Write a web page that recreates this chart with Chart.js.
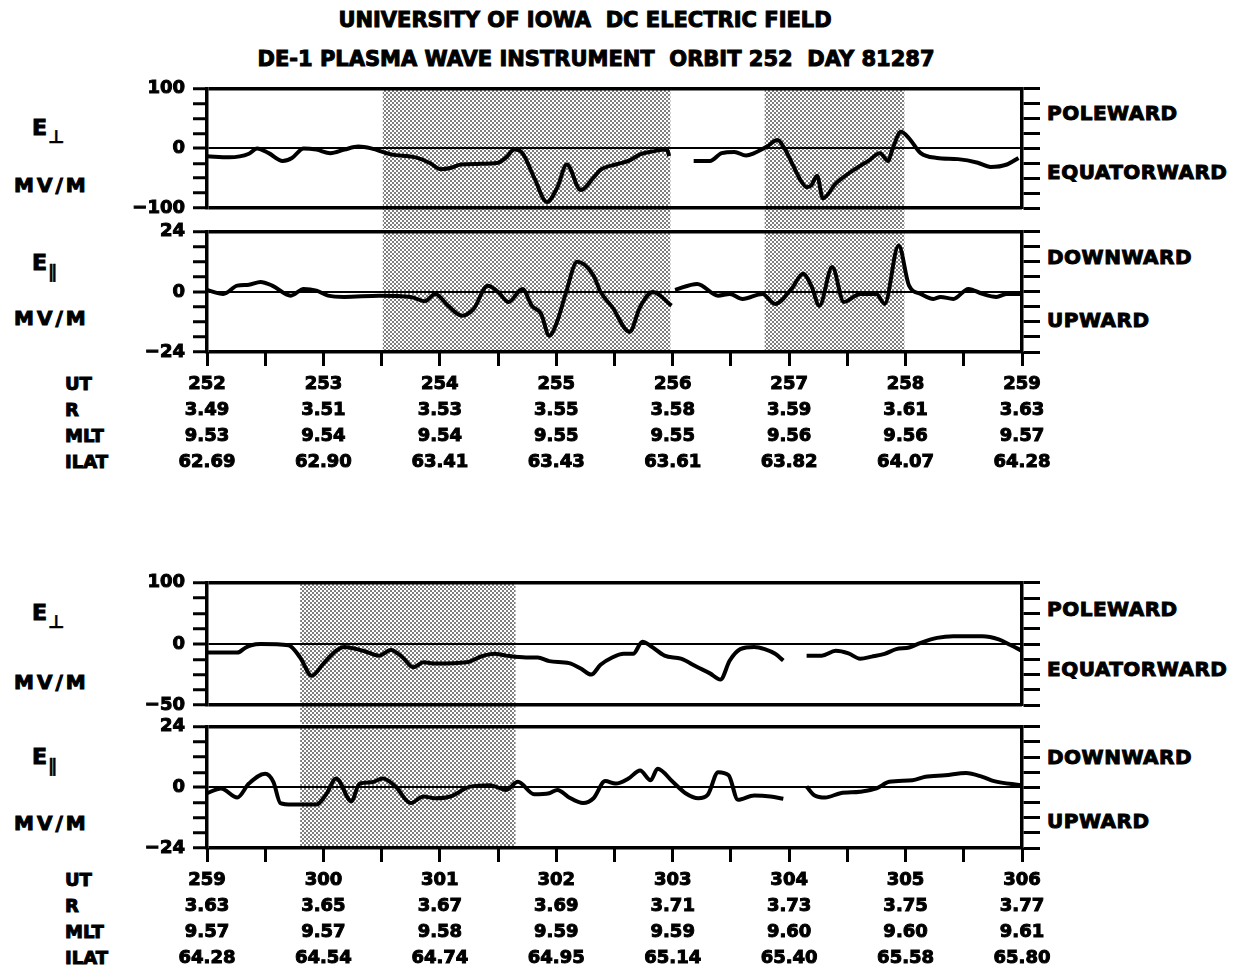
<!DOCTYPE html>
<html>
<head>
<meta charset="utf-8">
<script src="https://cdn.jsdelivr.net/npm/chart.js@4.4.0/dist/chart.umd.min.js"></script>
<style>
  body { margin: 0; background: #fff; width: 1237px; height: 972px; position: relative; overflow: hidden;
         font-family: "DejaVu Sans", sans-serif; font-weight: bold; color: #000; }
  canvas { position: absolute; left: 0; }
  .txt, .title { -webkit-text-stroke: 1px #000; }
  .txt { position: absolute; white-space: nowrap; line-height: 1; transform: translateY(-50%); }
  .title { position: absolute; white-space: nowrap; line-height: 1; transform: translate(-50%, -50%); font-size: 21px; }
  .side { font-size: 20px; letter-spacing: 0.5px; }
  .unit { font-size: 20px; letter-spacing: 3px; left: 14px; }
  .field { font-size: 22px; left: 32px; }
  .field span { font-size: 18px; position: relative; top: 8px; margin-left: 1px; -webkit-text-stroke: 0.4px #000; }
  .row { font-size: 18px; left: 65px; }
</style>
</head>
<body>
<div class="title" style="left:585px;top:20px">UNIVERSITY OF IOWA&nbsp;&nbsp;DC ELECTRIC FIELD</div>
<div class="title" style="left:596px;top:59px">DE-1 PLASMA WAVE INSTRUMENT&nbsp;&nbsp;ORBIT 252&nbsp;&nbsp;DAY 81287</div>

<div class="txt field" style="top:128px">E<span>⊥</span></div>
<div class="txt unit" style="top:185px">MV/M</div>
<div class="txt field" style="top:263px">E<span>∥</span></div>
<div class="txt unit" style="top:318px">MV/M</div>
<div class="txt field" style="top:613px">E<span>⊥</span></div>
<div class="txt unit" style="top:682px">MV/M</div>
<div class="txt field" style="top:757px">E<span>∥</span></div>
<div class="txt unit" style="top:823px">MV/M</div>

<div class="txt side" style="left:1047px;top:113px">POLEWARD</div>
<div class="txt side" style="left:1047px;top:172px">EQUATORWARD</div>
<div class="txt side" style="left:1047px;top:257px">DOWNWARD</div>
<div class="txt side" style="left:1047px;top:320px">UPWARD</div>
<div class="txt side" style="left:1047px;top:609px">POLEWARD</div>
<div class="txt side" style="left:1047px;top:669px">EQUATORWARD</div>
<div class="txt side" style="left:1047px;top:757px">DOWNWARD</div>
<div class="txt side" style="left:1047px;top:821px">UPWARD</div>

<div class="txt row" style="top:384px">UT</div>
<div class="txt row" style="top:410px">R</div>
<div class="txt row" style="top:436px">MLT</div>
<div class="txt row" style="top:462px">ILAT</div>
<div class="txt row" style="top:880px">UT</div>
<div class="txt row" style="top:906px">R</div>
<div class="txt row" style="top:932px">MLT</div>
<div class="txt row" style="top:958px">ILAT</div>

<canvas id="p1" width="1237" height="159" style="top:70px"></canvas>
<canvas id="p2" width="1237" height="277" style="top:213px"></canvas>
<canvas id="p3" width="1237" height="160" style="top:564px"></canvas>
<canvas id="p4" width="1237" height="264" style="top:708px"></canvas>

<script>
// x is minutes after the first UT mark of each strip (0..7)
const utTop   = ["252", "253", "254", "255", "256", "257", "258", "259"];
const rTop    = ["3.49", "3.51", "3.53", "3.55", "3.58", "3.59", "3.61", "3.63"];
const mltTop  = ["9.53", "9.54", "9.54", "9.55", "9.55", "9.56", "9.56", "9.57"];
const ilatTop = ["62.69", "62.90", "63.41", "63.43", "63.61", "63.82", "64.07", "64.28"];

const utBot   = ["259", "300", "301", "302", "303", "304", "305", "306"];
const rBot    = ["3.63", "3.65", "3.67", "3.69", "3.71", "3.73", "3.75", "3.77"];
const mltBot  = ["9.57", "9.57", "9.58", "9.59", "9.59", "9.60", "9.60", "9.61"];
const ilatBot = ["64.28", "64.54", "64.74", "64.95", "65.14", "65.40", "65.58", "65.80"];

// shaded intervals (minutes)
const shadeTop = [[1.51, 3.98], [4.79, 5.99]];
const shadeBot = [[0.80, 2.65]];

// y axis ticks
const perpTicks    = [-100, -75, -50, -25, 0, 25, 50, 75, 100];
const perpTicksLow = [-50, -37.5, -25, -12.5, 0, 25, 50, 75, 100];
const parTicks     = [-24, -18, -12, -6, 0, 6, 12, 18, 24];

// E perp, orbit strip 1 (null = data gap)
const topPerpT = [0, 0.19, 0.36, 0.43, 0.53, 0.65, 0.73, 0.83, 0.94, 1.06, 1.18, 1.30, 1.41, 1.58, 1.79, 1.91,
  2.01, 2.09, 2.18, 2.33, 2.50, 2.57, 2.64, 2.71, 2.81, 2.92, 3.01, 3.09, 3.21, 3.32, 3.38, 3.51, 3.62, 3.72,
  3.83, 3.95, 3.97, 4.07, 4.18, 4.32, 4.42, 4.53, 4.63, 4.70, 4.81, 4.90, 4.96, 5.03, 5.10, 5.15, 5.19, 5.24,
  5.29, 5.40, 5.54, 5.68, 5.78, 5.85, 5.89, 5.96, 6.03, 6.13, 6.27, 6.45, 6.62, 6.73, 6.87, 6.97];
const topPerpV = [-13, -15, -9, 0, -8, -21, -16, 0, -2, -8, -2, 3, 0, -10, -15, -24,
  -35, -33, -27, -26, -24, -15, -2, -8, -49, -90, -65, -27, -70, -49, -36, -27, -21, -10,
  -5, -2, -13, null, -21, -21, -8, -6, -12, -8, 3, 14, 0, -27, -54, -65, -62, -46,
  -84, -59, -38, -21, -8, -21, 0, 28, 17, -8, -16, -18, -24, -31, -27, -16];

// E parallel, strip 1
const topParT = [0, 0.14, 0.26, 0.36, 0.46, 0.56, 0.72, 0.83, 0.94, 1.04, 1.18, 1.48, 1.75, 1.87, 1.96, 2.07,
  2.19, 2.29, 2.41, 2.50, 2.59, 2.71, 2.79, 2.87, 2.94, 3.01, 3.08, 3.18, 3.32, 3.38, 3.48, 3.63, 3.72, 3.83,
  3.99, 4.00, 4.02, 4.21, 4.39, 4.49, 4.60, 4.77, 4.88, 5.02, 5.12, 5.19, 5.26, 5.37, 5.47, 5.61, 5.75, 5.82,
  5.94, 6.03, 6.13, 6.24, 6.30, 6.41, 6.54, 6.66, 6.78, 6.87, 6.99];
const topParV = [0.8, -0.8, 2.5, 2.9, 4, 2.5, -1.5, 1.2, 0.5, -1.5, -2, -1.5, -2, -3.7, -0.8, -5.5,
  -9.5, -6.8, 2.5, 0, -4, 1.2, -5.5, -8.8, -17.5, -11.5, -0.8, 12, 6.5, 0, -6, -16, -6, 0,
  -5.5, null, 0.8, 3.2, -1.5, -0.8, -2.8, -0.8, -4.8, 1.2, 7.2, 2.5, -5.5, 9.9, -4, -0.8, -0.8, -4.8,
  18.5, 2.5, -0.8, -2.8, -2, -2.8, 1.2, -0.8, -2, -0.8, -0.8];

// E perp, strip 2
const botPerpT = [0, 0.26, 0.33, 0.38, 0.46, 0.70, 0.80, 0.90, 1.00, 1.11, 1.18, 1.34, 1.48, 1.58, 1.68, 1.77,
  1.86, 1.96, 2.23, 2.36, 2.47, 2.57, 2.74, 2.84, 2.94, 3.11, 3.21, 3.30, 3.38, 3.48, 3.58, 3.66, 3.74, 3.81,
  3.93, 4.07, 4.21, 4.32, 4.41, 4.49, 4.58, 4.70, 4.79, 4.88, 4.95, 5.05, 5.15, 5.28, 5.40, 5.51, 5.61, 5.71,
  5.82, 5.92, 6.03, 6.13, 6.27, 6.41, 6.66, 6.80, 6.90, 7.0];
const botPerpV = [-7, -7, -3, -1, 0, -1, -11, -26, -16, -5.5, -2.4, -5.5, -9.5, -4.8, -11, -19,
  -15, -16, -15, -10, -8, -9.5, -11, -11, -14, -15.6, -20, -25, -17, -11, -8, -8, 3.8, -1.6,
  -9.5, -12, -18.8, -24, -29, -13.5, -4.2, -2.4, -4.2, -8, -13.5, null, -9.5, -9.5, -5.6, -7.7, -12, -10.3,
  -8, -4.2, -2.9, 2, 10, 12.7, 12.7, 7.5, -0.8, -5.6];

// E parallel, strip 2
const botParT = [0, 0.12, 0.26, 0.36, 0.50, 0.57, 0.63, 0.73, 0.94, 1.02, 1.11, 1.24, 1.31, 1.41, 1.51, 1.62,
  1.75, 1.86, 1.96, 2.09, 2.26, 2.43, 2.57, 2.67, 2.81, 2.94, 3.01, 3.11, 3.23, 3.32, 3.42, 3.51, 3.62, 3.72,
  3.81, 3.87, 4.00, 4.11, 4.22, 4.30, 4.39, 4.48, 4.56, 4.70, 4.84, 4.95, 5.05, 5.15, 5.22, 5.31, 5.44, 5.61,
  5.75, 5.86, 6.06, 6.17, 6.34, 6.52, 6.66, 6.76, 6.99];
const botParV = [-2.3, -0.4, -4, 1.5, 5.4, 2.2, -6.2, -6.8, -6.8, -3, 3.5, -5.5, 1.5, 2, 3.5, 0.3,
  -6.2, -3.6, -4.3, -3.6, 0.3, 0.9, -1, 2.2, -2.7, -2.3, -1, -4, -6.2, -4.3, 2.5, 1.5, 3.5, 6.7,
  2.8, 7.4, 2.2, -2.3, -4.3, -3, 6, 4.8, -4.9, -3.2, -3.6, -4.5, null, 0.3, -3.2, -4, -2.3, -1.7,
  -0.4, 2.2, 2.8, 4.2, 4.8, 5.7, 4.2, 2.5, 0.9];

// scale whose two halves (above and below zero) have the same height
class SplitScale extends Chart.LinearScale {
  getPixelForValue(value) {
    const d = value >= 0 ? 0.5 + 0.5 * value / this.max : 0.5 - 0.5 * value / this.min;
    return this.getPixelForDecimal(d);
  }
  getValueForPixel(pixel) {
    const d = this.getDecimalForPixel(pixel);
    return d >= 0.5 ? (d - 0.5) * 2 * this.max : (0.5 - d) * 2 * this.min;
  }
}
SplitScale.id = "split";
SplitScale.defaults = Chart.LinearScale.defaults;
Chart.register(SplitScale);

Chart.defaults.font.family = '"DejaVu Sans", sans-serif';
Chart.defaults.font.weight = "bold";
Chart.defaults.font.size = 18;
Chart.defaults.color = "#000";

// halftone dots for shaded intervals
const tile = document.createElement("canvas");
tile.width = 4; tile.height = 4;
const tctx = tile.getContext("2d");
tctx.fillStyle = "rgba(0,0,0,0.5)";
tctx.fillRect(0, 0, 2, 2);
tctx.fillRect(2, 2, 2, 2);

const shadePlugin = {
  id: "shade",
  beforeDraw(chart, args, opts) {
    const { ctx, chartArea } = chart;
    const x = chart.scales.x;
    const bottom = opts.extend ? chart.height : chartArea.bottom;
    ctx.save();
    ctx.fillStyle = ctx.createPattern(tile, "repeat");
    opts.spans.forEach(([a, b]) => {
      const x0 = x.getPixelForValue(a), x1 = x.getPixelForValue(b);
      ctx.fillRect(x0, chartArea.top, x1 - x0, bottom - chartArea.top);
    });
    ctx.restore();
  }
};

function fmt(v) {
  return v < 0 ? "\u2212" + Math.abs(v) : String(v);
}

function makePanel(id, cfg) {
  const { tv, vv, min, max, ticks, split, shade, extend, pad, xLabels } = cfg;
  const showX = !!xLabels;
  const edge = v => v === 0 || v === min || v === max;
  const yType = split ? "split" : "linear";
  const setTicks = s => { s.ticks = ticks.map(v => ({ value: v })); };

  new Chart(document.getElementById(id), {
    type: "line",
    data: {
      datasets: [{
        data: tv.map((t, i) => ({ x: t, y: vv[i] })),
        borderColor: "#000",
        borderWidth: 4,
        pointRadius: 0,
        cubicInterpolationMode: "monotone",
        spanGaps: false,
        yAxisID: "y"
      }]
    },
    options: {
      responsive: false,
      animation: false,
      devicePixelRatio: 1,
      layout: { padding: pad },
      plugins: {
        legend: { display: false },
        tooltip: { enabled: false },
        shade: { spans: shade, extend: extend }
      },
      scales: {
        x: {
          type: "linear",
          min: 0, max: 7,
          display: showX,
          afterFit: s => { if (showX) s.height = cfg.xHeight; },
          ticks: {
            stepSize: 0.5,
            autoSkip: false,
            maxRotation: 0,
            padding: 5,
            textStrokeColor: "#000",
            textStrokeWidth: 1,
            font: { size: 18, lineHeight: 26 / 18 },
            callback: v => {
              const i = Math.round(v);
              if (!showX || Math.abs(v - i) > 1e-6) return "";
              return xLabels.map(row => row[i]);
            }
          },
          grid: { drawOnChartArea: false, tickLength: 14, tickWidth: 3, tickColor: "#000" },
          border: { display: false }
        },
        y: {
          type: yType,
          position: "left",
          min: min, max: max,
          afterBuildTicks: setTicks,
          afterFit: s => { s.width = 207; },
          ticks: {
            autoSkip: false,
            padding: 8,
            textStrokeColor: "#000",
            textStrokeWidth: 1,
            font: { size: 18 },
            callback: v => edge(v) ? fmt(v) : ""
          },
          grid: {
            color: ctx => edge(ctx.tick.value) ? "#000" : "rgba(0,0,0,0)",
            lineWidth: ctx => ctx.tick.value === 0 ? 2 : 3.5,
            tickLength: 14,
            tickWidth: 3,
            tickColor: "#000"
          },
          border: { display: true, color: "#000", width: 3.5 }
        },
        y2: {
          type: yType,
          position: "right",
          min: min, max: max,
          afterBuildTicks: setTicks,
          afterFit: s => { s.width = 215; },
          ticks: { display: false },
          grid: { drawOnChartArea: false, tickLength: 18, tickWidth: 3, tickColor: "#000" },
          border: { display: true, color: "#000", width: 3.5 }
        }
      }
    },
    plugins: [shadePlugin]
  });
}

makePanel("p1", { tv: topPerpT, vv: topPerpV, min: -100, max: 100, ticks: perpTicks,
  shade: shadeTop, extend: true, pad: { top: 16, bottom: 21, left: 0, right: 0 } });
makePanel("p2", { tv: topParT, vv: topParV, min: -24, max: 24, ticks: parTicks,
  shade: shadeTop, extend: false, pad: { top: 16, bottom: 0, left: 0, right: 0 },
  xLabels: [utTop, rTop, mltTop, ilatTop], xHeight: 138 });
makePanel("p3", { tv: botPerpT, vv: botPerpV, min: -50, max: 100, ticks: perpTicksLow, split: true,
  shade: shadeBot, extend: true, pad: { top: 16, bottom: 18, left: 0, right: 0 } });
makePanel("p4", { tv: botParT, vv: botParV, min: -24, max: 24, ticks: parTicks,
  shade: shadeBot, extend: false, pad: { top: 16, bottom: 0, left: 0, right: 0 },
  xLabels: [utBot, rBot, mltBot, ilatBot], xHeight: 124 });
</script>
</body>
</html>
